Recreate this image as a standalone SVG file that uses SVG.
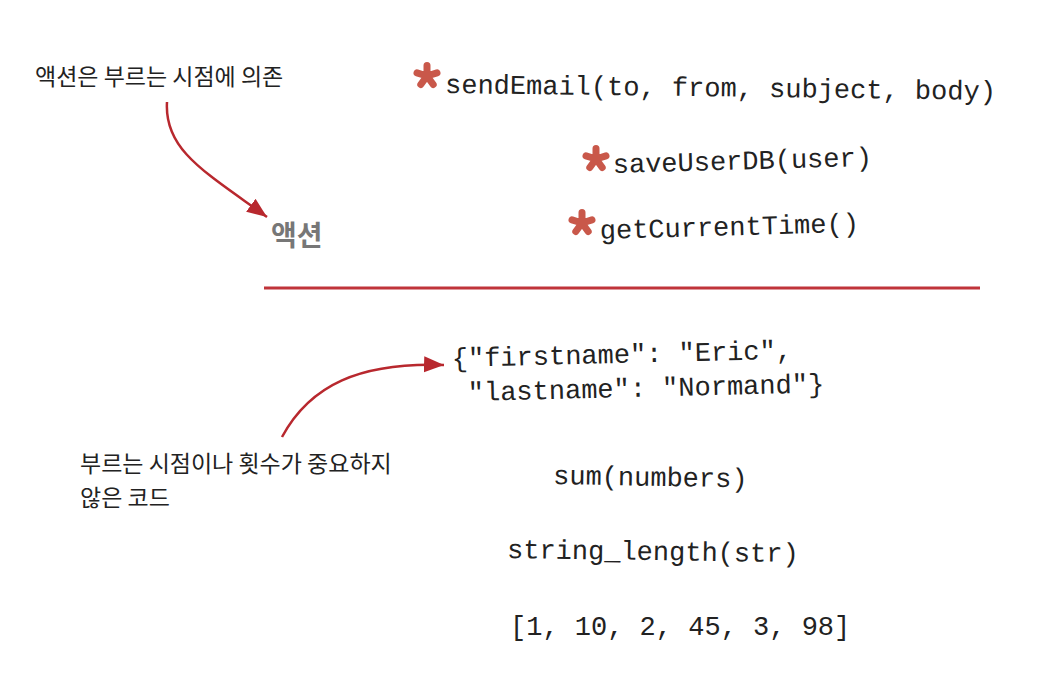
<svg xmlns="http://www.w3.org/2000/svg" width="1060" height="680" viewBox="0 0 1060 680">
<style>
.ko{font-family:"Noto Sans CJK KR","Noto Sans",sans-serif;font-size:23px;fill:#222}
.ko-b{font-family:"Noto Sans CJK KR","Noto Sans",sans-serif;font-size:28px;font-weight:bold;fill:#777}
.code{font-family:"Liberation Mono","Courier New",monospace;font-size:27px;fill:#222}
.conn{fill:none;stroke:#b8282e;stroke-width:2.5}
.star{stroke:#c9584a;stroke-width:7;stroke-linecap:round;fill:none}
</style>
<defs>
<marker id="ah" markerUnits="userSpaceOnUse" markerWidth="22" markerHeight="18" refX="20" refY="8" orient="auto">
<path d="M0,0 L20,8 L0,16 Z" fill="#b8282e"/>
</marker>
<g id="asterisk">
<path class="star" d="M0,0 L0,-10.5 M0,0 L10,-3.2 M0,0 L6.2,8.5 M0,0 L-6.2,8.5 M0,0 L-10,-3.2"/>
</g>
</defs>
<rect width="1060" height="680" fill="#fff"/>

<g id="connectors">
<path class="conn" d="M167,102 C164,150 205,172 267,217" marker-end="url(#ah)"/>
<path class="conn" d="M282,437 C310,385 360,362 444,365" marker-end="url(#ah)"/>
<line x1="264" y1="288" x2="980" y2="288" stroke="#c0343a" stroke-width="3"/>
</g>

<g id="label-action-depends">
<text class="ko" x="35" y="85">액션은 부르는 시점에 의존</text>
</g>
<g id="label-action">
<text class="ko-b" x="271" y="246">액션</text>
</g>
<g id="label-not-important">
<text class="ko" x="80" y="472">부르는 시점이나 횟수가 중요하지</text>
<text class="ko" x="80" y="506">않은 코드</text>
</g>

<g id="node-sendEmail">
<use href="#asterisk" x="427" y="76"/>
<text class="code" x="445" y="93" transform="rotate(0.7 445 93)">sendEmail(to, from, subject, body)</text>
</g>
<g id="node-saveUserDB">
<use href="#asterisk" x="596" y="159"/>
<text class="code" x="613" y="173" transform="rotate(-1.6 613 173)">saveUserDB(user)</text>
</g>
<g id="node-getCurrentTime">
<use href="#asterisk" x="582" y="223"/>
<text class="code" x="600" y="239" transform="rotate(-1.6 600 239)">getCurrentTime()</text>
</g>

<g id="node-json">
<text class="code" x="452" y="367" transform="rotate(-1.4 452 367)">{"firstname": "Eric",</text>
<text class="code" x="468" y="401" transform="rotate(-1.4 468 401)">"lastname": "Normand"}</text>
</g>
<g id="node-sum">
<text class="code" x="553" y="484" transform="rotate(1 553 484)">sum(numbers)</text>
</g>
<g id="node-string-length">
<text class="code" x="507" y="558" transform="rotate(0.8 507 558)">string_length(str)</text>
</g>
<g id="node-array">
<text class="code" x="510" y="635">[1, 10, 2, 45, 3, 98]</text>
</g>
</svg>
